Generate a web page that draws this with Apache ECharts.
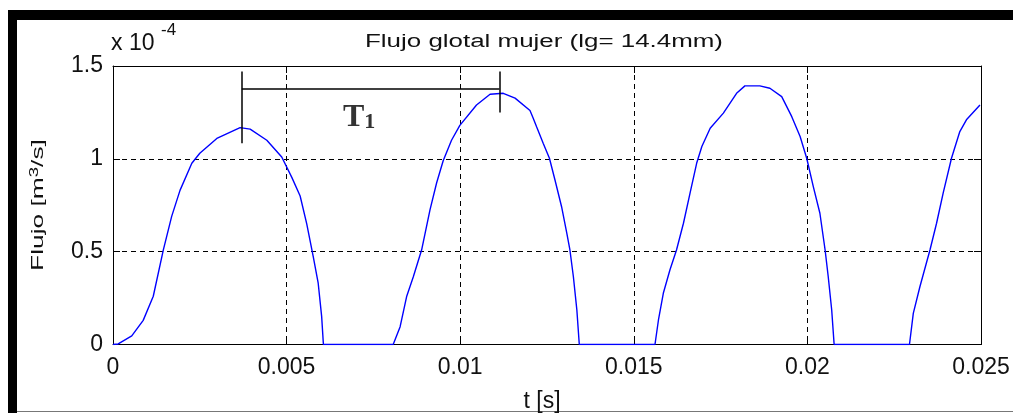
<!DOCTYPE html>
<html>
<head>
<meta charset="utf-8">
<script src="https://cdn.jsdelivr.net/npm/echarts@6/dist/echarts.min.js"></script>
<style>
  html, body { margin: 0; padding: 0; background: #fff; }
  #chart { width: 1013px; height: 413px; }
</style>
</head>
<body>
<div id="chart"></div>
<script>
// Glottal flow samples: time in seconds, flow in units of 1e-4 m^3/s
const timeSec = [
  0, 0.00015, 0.00054, 0.00087, 0.00116, 0.00145, 0.00169, 0.00193, 0.00227, 0.0025,
  0.00299, 0.00366, 0.00395, 0.00443, 0.00486, 0.00515, 0.00539, 0.00558, 0.00577, 0.00591,
  0.00601, 0.00606, 0.00807, 0.00827, 0.00846, 0.00865, 0.00889, 0.00913, 0.00932, 0.00951,
  0.00975, 0.00999, 0.01047, 0.01086, 0.01124, 0.01158, 0.01201, 0.0121, 0.0122, 0.01239,
  0.01257, 0.01273, 0.01292, 0.01307, 0.01316, 0.01326, 0.01336, 0.01343, 0.01561, 0.01571,
  0.01585, 0.01604, 0.01623, 0.01643, 0.01662, 0.01681, 0.01696, 0.0172, 0.01758, 0.01796,
  0.0182, 0.01863, 0.01892, 0.01926, 0.01955, 0.01979, 0.01998, 0.02017, 0.02036, 0.02051,
  0.0206, 0.0207, 0.02077, 0.02294, 0.02305, 0.02324, 0.02353, 0.02372, 0.02391, 0.02415,
  0.02439, 0.02458, 0.02497
];
const flowE4 = [
  0, 0.003, 0.046, 0.13, 0.26, 0.51, 0.69, 0.83, 0.976, 1.03,
  1.11, 1.168, 1.16, 1.10, 1.01, 0.90, 0.80, 0.65, 0.47, 0.33,
  0.15, 0, 0, 0.096, 0.26, 0.365, 0.51, 0.725, 0.87, 0.99,
  1.10, 1.18, 1.29, 1.348, 1.353, 1.327, 1.26, 1.22, 1.173, 1.084,
  1.003, 0.886, 0.742, 0.60, 0.509, 0.365, 0.186, 0, 0, 0.132,
  0.276, 0.401, 0.509, 0.653, 0.815, 0.976, 1.066, 1.165, 1.246, 1.353,
  1.393, 1.393, 1.38, 1.335, 1.227, 1.12, 1.003, 0.85, 0.707, 0.509,
  0.365, 0.186, 0, 0, 0.168, 0.311, 0.509, 0.653, 0.815, 1.003,
  1.147, 1.21, 1.29
];

// Tick labels
const xTickLabels = ['0', '0.005', '0.01', '0.015', '0.02', '0.025'];
const yTickLabels = ['0', '0.5', '1', '1.5'];

// Period marker T1 (data units)
const periodStart = 0.00371;
const periodEnd = 0.01113;
const periodTop = 1.47;
const periodBar = 1.38;
const periodStartBottom = 1.084;
const periodEndBottom = 1.249;
const periodLabelPos = [0.00709, 1.223];

const seriesData = timeSec.map((t, i) => [t, flowE4[i]]);

const FONT = 'Liberation Sans, Arial, sans-serif';
const SERIF = 'Liberation Serif, Times New Roman, serif';
const TEXT = '#111';
const chart = echarts.init(document.getElementById('chart'), null, { renderer: 'canvas' });

const xStep = 0.005, yStep = 0.5;
const tickFromIndex = (labels, step) => v => {
  const idx = Math.round(v / step);
  return labels[idx] !== undefined ? labels[idx] : '';
};

const common = {
  axisLine: { show: true, onZero: false, lineStyle: { color: '#000', width: 1 } },
  axisTick: { show: true, inside: true, length: 7, lineStyle: { color: '#000', width: 1 } }
};

chart.setOption({
  animation: false,
  backgroundColor: '#fff',
  grid: { left: 113, top: 66, width: 868, height: 278.5, containLabel: false, outerBoundsMode: 'none' },
  xAxis: [
    {
      type: 'value', min: 0, max: 0.025, interval: xStep, position: 'bottom',
      ...common,
      axisLabel: { show: true, margin: 12, color: TEXT, fontSize: 23, fontFamily: FONT,
        formatter: tickFromIndex(xTickLabels, xStep) },
      splitLine: { show: true, lineStyle: { color: '#000', width: 1, type: [5, 4] } },
      name: 't [s]', nameLocation: 'middle', nameGap: 46,
      nameTextStyle: { color: TEXT, fontSize: 23, fontFamily: FONT, padding: [0, 10, 0, 0] }
    },
    {
      type: 'value', min: 0, max: 0.025, interval: xStep, position: 'top',
      ...common, axisLabel: { show: false }, splitLine: { show: false }
    }
  ],
  yAxis: [
    {
      type: 'value', min: 0, max: 1.5, interval: yStep, position: 'left',
      ...common,
      axisLabel: { show: true, margin: 10, color: TEXT, fontSize: 23, fontFamily: FONT,
        formatter: tickFromIndex(yTickLabels, yStep) },
      splitLine: { show: true, lineStyle: { color: '#000', width: 1, type: [5, 4] } }
    },
    {
      type: 'value', min: 0, max: 1.5, interval: yStep, position: 'right',
      ...common, axisLabel: { show: false }, splitLine: { show: false }
    }
  ],
  series: [
    {
      type: 'line',
      data: seriesData,
      showSymbol: false,
      symbol: 'none',
      lineStyle: { color: '#0000ff', width: 1.4 },
      z: 3
    },
    {
      type: 'scatter',
      data: [periodLabelPos],
      symbolSize: 0,
      silent: true,
      z: 4,
      label: {
        show: true, position: 'inside',
        formatter: '{t|T}{n|1}',
        rich: {
          t: { fontSize: 32, fontWeight: 'bold', fontFamily: SERIF, color: '#000', verticalAlign: 'bottom', lineHeight: 32 },
          n: { fontSize: 22, fontWeight: 'bold', fontFamily: SERIF, color: '#000', verticalAlign: 'bottom', lineHeight: 28 }
        }
      },
      markLine: {
        silent: true, symbol: 'none', animation: false,
        label: { show: false },
        lineStyle: { color: '#000', width: 1.5, type: 'solid' },
        emphasis: { disabled: true },
        data: [
          [{ coord: [periodStart, periodTop] }, { coord: [periodStart, periodStartBottom] }],
          [{ coord: [periodEnd, periodTop] }, { coord: [periodEnd, periodEndBottom] }],
          [{ coord: [periodStart, periodBar] }, { coord: [periodEnd, periodBar] }]
        ]
      }
    }
  ],
  graphic: [
    // figure frame
    { type: 'rect', shape: { x: 8, y: 10, width: 9, height: 403 }, style: { fill: '#000' }, silent: true },
    { type: 'rect', shape: { x: 8, y: 10, width: 1005, height: 10 }, style: { fill: '#000' }, silent: true },
    { type: 'line', shape: { x1: 17, y1: 411.5, x2: 1013, y2: 411.5 }, style: { stroke: '#777', lineWidth: 1 }, silent: true },
    // title (wide lettering)
    {
      type: 'text', x: 544, y: 42, scaleX: 1.44,
      style: { text: 'Flujo glotal mujer (lg= 14.4mm)', fill: TEXT, fontSize: 18, fontFamily: FONT,
        align: 'center', verticalAlign: 'middle' },
      silent: true
    },
    // y axis title, reading bottom to top
    {
      type: 'text', x: 38, y: 205, rotation: Math.PI / 2, scaleX: 1.55,
      style: {
        text: '{a|Flujo [m}{s|3}{a|/s]}', fill: TEXT, fontFamily: FONT,
        align: 'center', verticalAlign: 'middle',
        rich: {
          a: { fontSize: 17, fontFamily: FONT, fill: TEXT, verticalAlign: 'bottom', lineHeight: 18 },
          s: { fontSize: 12, fontFamily: FONT, fill: TEXT, verticalAlign: 'top', lineHeight: 12, padding: [0, 0, 12, 0] }
        }
      },
      silent: true
    },
    // exponent of the y scale
    {
      type: 'text', x: 111, y: 44,
      style: { text: 'x 10', fill: TEXT, fontSize: 23, fontFamily: FONT, align: 'left', verticalAlign: 'middle' },
      silent: true
    },
    {
      type: 'text', x: 161, y: 30,
      style: { text: '-4', fill: TEXT, fontSize: 17, fontFamily: FONT, align: 'left', verticalAlign: 'middle' },
      silent: true
    }
  ]
});
</script>
</body>
</html>
